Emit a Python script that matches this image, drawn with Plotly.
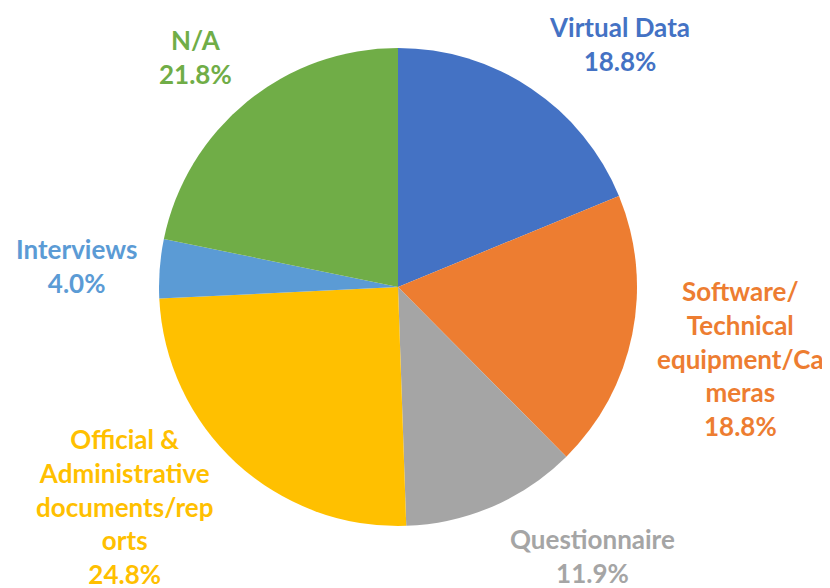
import plotly.graph_objects as go

# data
categories = ["Virtual Data", "Software/Technical equipment/Cameras", "Questionnaire",
              "Official & Administrative documents/reports", "Interviews", "N/A"]
shares = [18.8, 18.8, 11.9, 24.8, 4.0, 21.8]
label_lines = [["Virtual Data"],
               ["Software/", "Technical", "equipment/Ca", "meras"],
               ["Questionnaire"],
               ["Official &", "Administrative", "documents/rep", "orts"],
               ["Interviews"],
               ["N/A"]]
colors = ["#4472C4", "#ED7D31", "#A5A5A5", "#FFC000", "#5B9BD5", "#70AD47"]

W, H = 830, 588
off = 8  # page body margin
cx, cy, r = 398 - off, 287 - off, 239

# label block centres in pixels (layout, placed like Excel's best fit)
label_pos = [(619, 44), (740, 358), (592, 556), (124, 506), (76, 266), (195, 57)]

fig = go.Figure(go.Pie(
    labels=categories, values=shares, sort=False, direction="clockwise", rotation=0,
    marker=dict(colors=colors, line=dict(width=0)),
    textinfo="none", hoverinfo="label+percent", showlegend=False,
    domain=dict(x=[(cx - r) / W, (cx + r) / W], y=[1 - (cy + r) / H, 1 - (cy - r) / H]),
))

for lines, val, col, (px_, py_) in zip(label_lines, shares, colors, label_pos):
    txt = "<br>".join(lines + ["{:.1f}%".format(val)])
    fig.add_annotation(x=(px_ - off) / W, y=1 - (py_ - off) / H, xref="paper", yref="paper",
                       text=txt, showarrow=False, xanchor="center", yanchor="middle",
                       align="center", font=dict(family="Lato", size=26, color=col, weight="bold"))

fig.update_layout(width=W, height=H, margin=dict(l=0, r=0, t=0, b=0),
                  paper_bgcolor="white", plot_bgcolor="white")
fig.write_html("out.html")
